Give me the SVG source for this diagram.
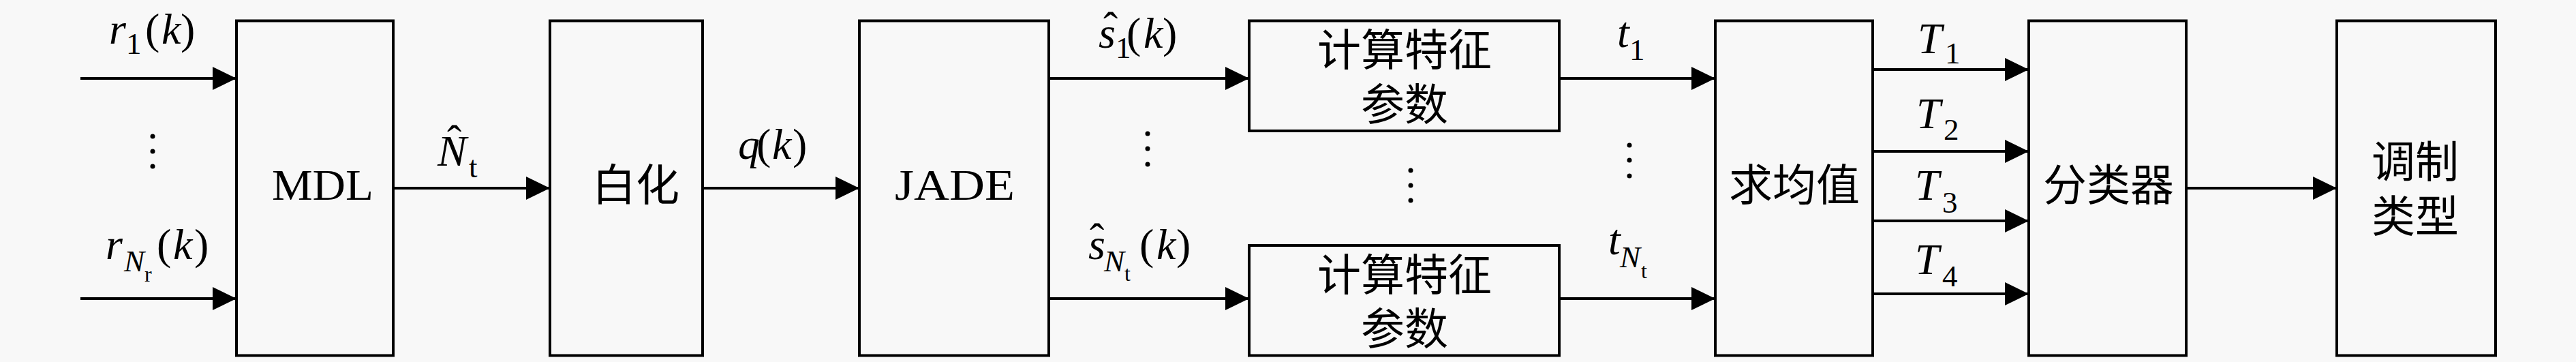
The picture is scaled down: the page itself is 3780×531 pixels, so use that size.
<svg xmlns="http://www.w3.org/2000/svg" width="3780" height="531" viewBox="0 0 3780 531">
<style>
.box{fill:none;stroke:#000;stroke-width:4}
.ln{fill:none;stroke:#000;stroke-width:4;marker-end:url(#ah)}
.m{font-family:"Liberation Serif",serif;font-size:64px;fill:#000}
.i{font-style:italic}
.s{font-size:45px}
.ss{font-size:32px}
.cn{font-family:"Noto Sans CJK SC",sans-serif;font-size:64px;fill:#000;text-anchor:middle}
.dot{fill:#000}
</style>
<defs>
<marker id="ah" markerUnits="userSpaceOnUse" markerWidth="36" markerHeight="36" refX="35" refY="17" orient="auto">
<path d="M0,0 L35,17 L0,34 z" fill="#000"/>
</marker>
</defs>
<rect width="3780" height="531" fill="#f8f8f8"/>

<g id="connectors">
<line class="ln" x1="118" y1="115" x2="347" y2="115"/>
<line class="ln" x1="118" y1="438" x2="347" y2="438"/>
<line class="ln" x1="577" y1="276" x2="807" y2="276"/>
<line class="ln" x1="1031" y1="276" x2="1261" y2="276"/>
<line class="ln" x1="1539" y1="115" x2="1833" y2="115"/>
<line class="ln" x1="1539" y1="438" x2="1833" y2="438"/>
<line class="ln" x1="2288" y1="115" x2="2517" y2="115"/>
<line class="ln" x1="2288" y1="438" x2="2517" y2="438"/>
<line class="ln" x1="2748" y1="102" x2="2977" y2="102"/>
<line class="ln" x1="2748" y1="222" x2="2977" y2="222"/>
<line class="ln" x1="2748" y1="324" x2="2977" y2="324"/>
<line class="ln" x1="2748" y1="431" x2="2977" y2="431"/>
<line class="ln" x1="3208" y1="276" x2="3429" y2="276"/>
</g>

<g id="labels">
<text class="m" y="64"><tspan x="160" class="i">r</tspan><tspan x="185" y="79" class="s">1</tspan><tspan x="213" y="64">(</tspan><tspan x="237" class="i">k</tspan><tspan x="265">)</tspan></text>
<text class="m" y="380"><tspan x="155" class="i">r</tspan><tspan x="182" y="398" class="s i">N</tspan><tspan x="212" y="413" class="ss">r</tspan><tspan x="230" y="380">(</tspan><tspan x="254" class="i">k</tspan><tspan x="285">)</tspan></text>
<text class="m" y="243"><tspan x="642" class="i">N</tspan><tspan x="688" y="260" class="s">t</tspan><tspan x="656" y="228">ˆ</tspan></text>
<text class="m" y="233"><tspan x="1083" class="i">q</tspan><tspan x="1110">(</tspan><tspan x="1133" class="i">k</tspan><tspan x="1163">)</tspan></text>
<text class="m" y="70"><tspan x="1612" class="i">s</tspan><tspan x="1637" y="85" class="s">1</tspan><tspan x="1653" y="70">(</tspan><tspan x="1678" class="i">k</tspan><tspan x="1706">)</tspan><tspan x="1619" y="62">ˆ</tspan></text>
<text class="m" y="380"><tspan x="1597" class="i">s</tspan><tspan x="1620" y="398" class="s i">N</tspan><tspan x="1650" y="412" class="ss">t</tspan><tspan x="1672" y="380">(</tspan><tspan x="1697" class="i">k</tspan><tspan x="1726">)</tspan><tspan x="1599" y="372">ˆ</tspan></text>
<text class="m" y="69"><tspan x="2373" class="i">t</tspan><tspan x="2391" y="88" class="s">1</tspan></text>
<text class="m" y="373"><tspan x="2360" class="i">t</tspan><tspan x="2377" y="392" class="s i">N</tspan><tspan x="2408" y="408" class="ss">t</tspan></text>
<text class="m" y="78"><tspan x="2814" class="i">T</tspan><tspan x="2854" y="93" class="s">1</tspan></text>
<text class="m" y="188"><tspan x="2812" class="i">T</tspan><tspan x="2852" y="205" class="s">2</tspan></text>
<text class="m" y="293"><tspan x="2810" class="i">T</tspan><tspan x="2850" y="312" class="s">3</tspan></text>
<text class="m" y="402"><tspan x="2810" class="i">T</tspan><tspan x="2850" y="420" class="s">4</tspan></text>
</g>

<g id="dots">
<circle class="dot" cx="224" cy="200" r="3.5"/><circle class="dot" cx="224" cy="222" r="3.5"/><circle class="dot" cx="224" cy="244" r="3.5"/>
<circle class="dot" cx="1684" cy="196" r="3.5"/><circle class="dot" cx="1684" cy="218" r="3.5"/><circle class="dot" cx="1684" cy="241" r="3.5"/>
<circle class="dot" cx="2070" cy="250" r="3.5"/><circle class="dot" cx="2070" cy="272" r="3.5"/><circle class="dot" cx="2070" cy="294" r="3.5"/>
<circle class="dot" cx="2391" cy="213" r="3.5"/><circle class="dot" cx="2391" cy="235" r="3.5"/><circle class="dot" cx="2391" cy="258" r="3.5"/>
</g>

<g id="mdl"><rect class="box" x="347" y="30.5" width="230" height="491"/><text class="m" x="399" y="293" textLength="149" lengthAdjust="spacingAndGlyphs">MDL</text></g>
<g id="whiten"><rect class="box" x="807" y="30.5" width="224" height="491"/><text class="cn" x="933" y="294">白化</text></g>
<g id="jade"><rect class="box" x="1261" y="30.5" width="278" height="491"/><text class="m" x="1313" y="293" textLength="176" lengthAdjust="spacingAndGlyphs">JADE</text></g>
<g id="feat1"><rect class="box" x="1833" y="30.5" width="455" height="161.5"/><text class="cn" x="2061" y="96">计算特征</text><text class="cn" x="2061" y="176">参数</text></g>
<g id="featN"><rect class="box" x="1833" y="360" width="455" height="161.5"/><text class="cn" x="2061" y="426">计算特征</text><text class="cn" x="2061" y="505">参数</text></g>
<g id="mean"><rect class="box" x="2517" y="30.5" width="231" height="491"/><text class="cn" x="2633" y="294">求均值</text></g>
<g id="classifier"><rect class="box" x="2977" y="30.5" width="231" height="491"/><text class="cn" x="3094" y="294">分类器</text></g>
<g id="modtype"><rect class="box" x="3429" y="30.5" width="233" height="491"/><text class="cn" x="3544" y="260">调制</text><text class="cn" x="3544" y="340">类型</text></g>
</svg>
